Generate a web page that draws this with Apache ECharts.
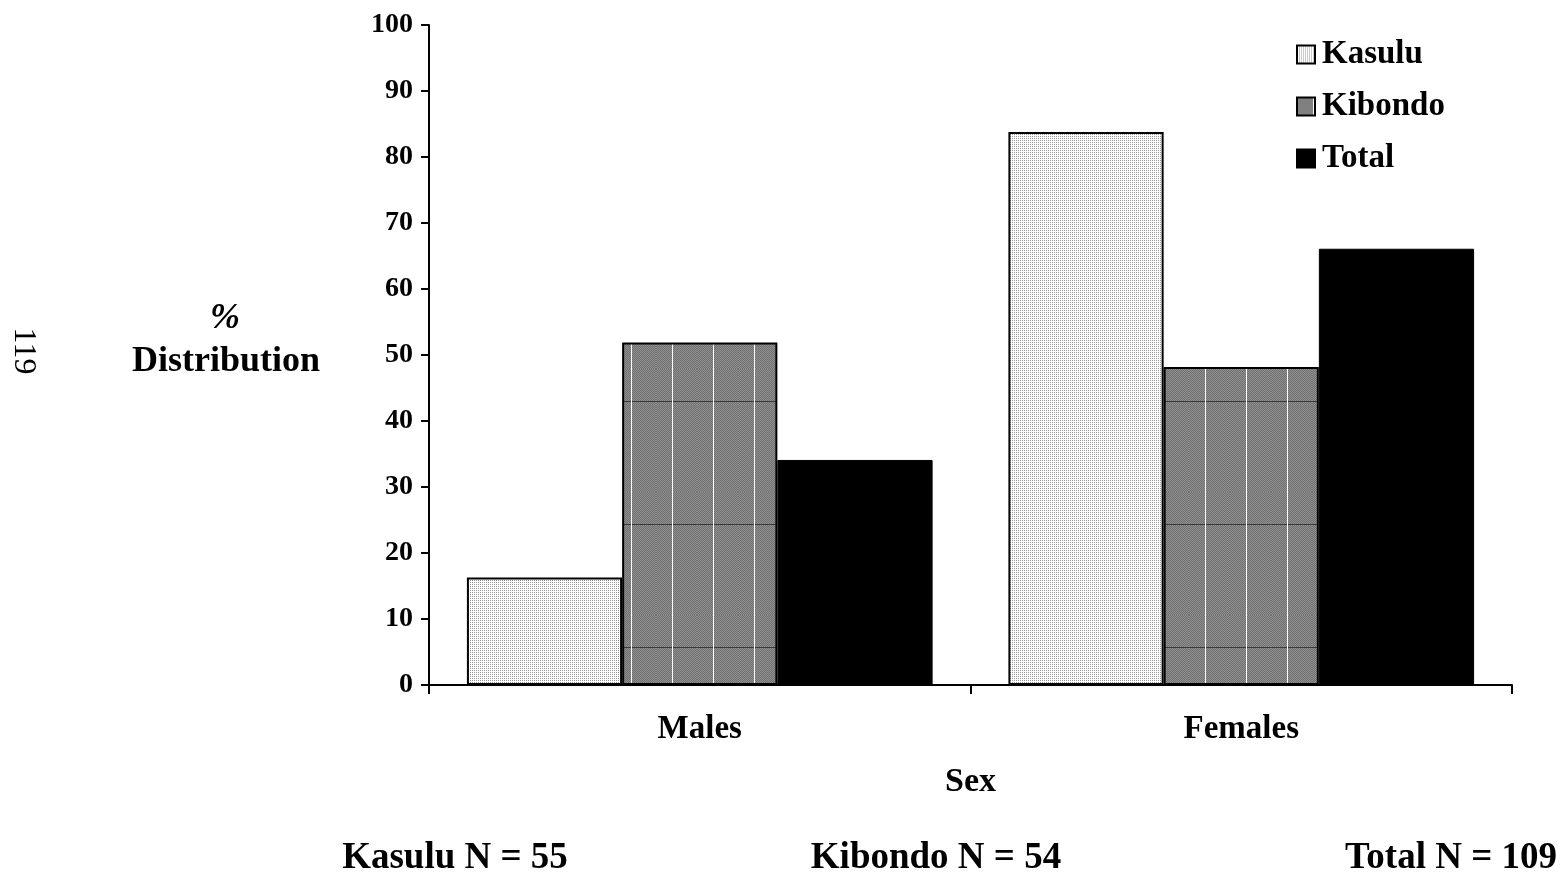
<!DOCTYPE html>
<html>
<head>
<meta charset="utf-8">
<script src="https://cdn.jsdelivr.net/npm/echarts@6/dist/echarts.min.js"></script>
<style>
html,body{margin:0;padding:0;background:#fff;}
#chart{width:1562px;height:874px;}
</style>
</head>
<body>
<div id="chart"></div>
<script>
// ---- data ----
const categories = ['Males', 'Females'];
const seriesNames = ['Kasulu', 'Kibondo', 'Total'];
const kasulu = [16.3, 83.8];
const kibondo = [51.9, 48.2];
const total = [34.1, 66.1];
const yAxisTitleLines = ['%', 'Distribution'];
const xAxisTitle = 'Sex';
const footnotes = ['Kasulu N = 55', 'Kibondo N = 54', 'Total N = 109'];
const pageNumber = '119';

// ---- patterns ----
function makeDots() {
  const c = document.createElement('canvas');
  c.width = 2; c.height = 2;
  const g = c.getContext('2d');
  g.fillStyle = '#ffffff'; g.fillRect(0, 0, 2, 2);
  g.fillStyle = '#9a9a9a'; g.fillRect(0, 0, 1, 1);
  return c;
}
function makeGrid() {
  const w = 41, h = 123;
  const c = document.createElement('canvas');
  c.width = w; c.height = h;
  const g = c.getContext('2d');
  for (let y = 0; y < h; y++) {
    for (let x = 0; x < w; x++) {
      g.fillStyle = ((x + y) % 2 === 0) ? '#727272' : '#8e8e8e';
      g.fillRect(x, y, 1, 1);
    }
  }
  g.fillStyle = '#3a3a3a'; g.fillRect(0, 32, w, 1);
  g.fillStyle = '#ffffff'; g.fillRect(16, 0, 1, h);
  return c;
}
const dotPattern = { image: makeDots(), repeat: 'repeat' };
const gridPattern = { image: makeGrid(), repeat: 'repeat' };

const FONT = '"Liberation Serif", "Times New Roman", serif';
const chart = echarts.init(document.getElementById('chart'));
chart.setOption({
  animation: false,
  backgroundColor: '#ffffff',
  textStyle: { fontFamily: FONT, color: '#000' },
  grid: { left: 429, right: 50, top: 25, bottom: 189 },
  legend: {
    orient: 'vertical',
    left: 1296, top: 38,
    padding: 0,
    itemWidth: 18, itemHeight: 18,
    itemGap: 19,
    icon: 'rect',
    data: seriesNames,
    textStyle: { fontFamily: FONT, fontWeight: 'bold', fontSize: 33, color: '#000', lineHeight: 33, padding: [0, 0, 0, 2] }
  },
  xAxis: {
    type: 'category',
    data: categories,
    name: xAxisTitle,
    nameLocation: 'middle',
    nameGap: 80,
    nameTextStyle: { fontFamily: FONT, fontWeight: 'bold', fontSize: 34, color: '#000' },
    axisLine: { lineStyle: { color: '#000', width: 2 } },
    axisTick: { show: true, length: 9, lineStyle: { color: '#000', width: 2 } },
    axisLabel: { margin: 28, fontFamily: FONT, fontWeight: 'bold', fontSize: 33, color: '#000' },
    splitLine: { show: false }
  },
  yAxis: {
    type: 'value',
    min: 0, max: 100, interval: 10,
    axisLine: { show: true, lineStyle: { color: '#000', width: 2 } },
    axisTick: { show: true, length: 8, lineStyle: { color: '#000', width: 2 } },
    axisLabel: { margin: 16, fontFamily: FONT, fontWeight: 'bold', fontSize: 28, color: '#000' },
    splitLine: { show: false }
  },
  series: [
    { name: seriesNames[0], type: 'bar', data: kasulu, barGap: '0%', barCategoryGap: '14%',
      itemStyle: { color: dotPattern, borderColor: '#000', borderWidth: 2 } },
    { name: seriesNames[1], type: 'bar', data: kibondo,
      itemStyle: { color: gridPattern, borderColor: '#000', borderWidth: 2 } },
    { name: seriesNames[2], type: 'bar', data: total,
      itemStyle: { color: '#000', borderColor: '#000', borderWidth: 1 } }
  ],
  graphic: [
    { type: 'text', x: 225, y: 319,
      style: { text: yAxisTitleLines[0], textAlign: 'center', textVerticalAlign: 'middle',
        font: 'italic bold 36px ' + FONT, fill: '#000' } },
    { type: 'text', x: 226, y: 362,
      style: { text: yAxisTitleLines[1], textAlign: 'center', textVerticalAlign: 'middle',
        font: 'bold 36px ' + FONT, fill: '#000' } },
    { type: 'text', x: 23, y: 351, rotation: -Math.PI / 2,
      style: { text: pageNumber, textAlign: 'center', textVerticalAlign: 'middle',
        font: 'normal 32px ' + FONT, fill: '#000' } },
    { type: 'text', x: 455, y: 858,
      style: { text: footnotes[0], textAlign: 'center', textVerticalAlign: 'middle',
        font: 'bold 37px ' + FONT, fill: '#000' } },
    { type: 'text', x: 936, y: 858,
      style: { text: footnotes[1], textAlign: 'center', textVerticalAlign: 'middle',
        font: 'bold 37px ' + FONT, fill: '#000' } },
    { type: 'text', x: 1451, y: 858,
      style: { text: footnotes[2], textAlign: 'center', textVerticalAlign: 'middle',
        font: 'bold 37px ' + FONT, fill: '#000' } }
  ]
});
</script>
</body>
</html>
